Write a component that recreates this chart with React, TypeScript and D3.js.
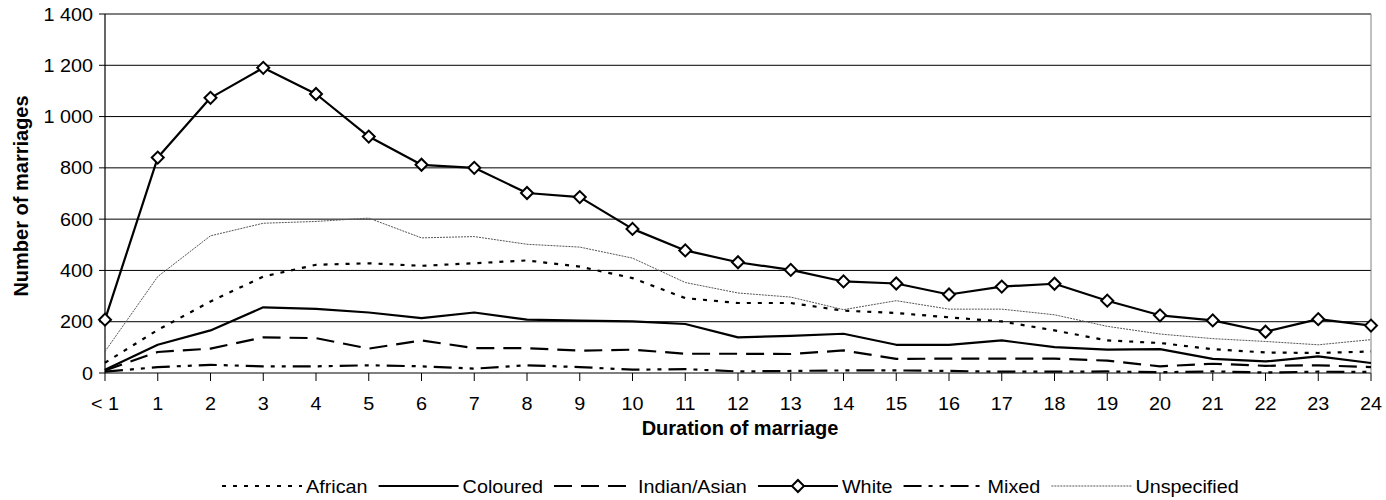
import React from 'react';
import * as d3 from 'd3';

// Duration of marriage (years) by population group
const categories = ['< 1', '1', '2', '3', '4', '5', '6', '7', '8', '9', '10', '11', '12', '13', '14', '15', '16', '17', '18', '19', '20', '21', '22', '23', '24'];

const african = [40, 168, 279, 376, 422, 428, 418, 428, 439, 415, 370, 292, 273, 273, 243, 234, 217, 201, 166, 127, 117, 93, 80, 78, 84];
const coloured = [13, 110, 166, 256, 250, 236, 214, 236, 208, 204, 201, 191, 139, 145, 153, 110, 110, 127, 101, 91, 93, 55, 45, 65, 39];
const indianAsian = [10, 82, 95, 139, 136, 95, 127, 97, 97, 87, 91, 75, 75, 74, 88, 55, 56, 56, 56, 48, 26, 36, 28, 30, 23];
const white = [208, 840, 1073, 1190, 1088, 922, 812, 800, 702, 686, 562, 478, 432, 402, 357, 349, 306, 337, 348, 282, 225, 205, 161, 210, 185];
const mixed = [5, 23, 32, 26, 26, 30, 26, 17, 30, 23, 13, 15, 6, 8, 10, 10, 8, 5, 5, 6, 3, 6, 2, 5, 4];
const unspecified = [84, 376, 535, 584, 591, 604, 527, 532, 502, 491, 448, 353, 312, 296, 247, 282, 249, 249, 227, 182, 152, 134, 123, 110, 130];

const yTicks = [0, 200, 400, 600, 800, 1000, 1200, 1400];
const yTickLabels = ['0', '200', '400', '600', '800', '1 000', '1 200', '1 400'];

const seriesNames = ['African', 'Coloured', 'Indian/Asian', 'White', 'Mixed', 'Unspecified'];
const seriesValues = [african, coloured, indianAsian, white, mixed, unspecified];

const W = 1386;
const H = 500;
const FONT = '"Liberation Sans", Arial, sans-serif';
const SX = 1.1; // the source is slightly stretched horizontally

const styles: { stroke: string; width: number; dash?: string; marker?: boolean }[] = [
  { stroke: '#000', width: 2.2, dash: '4,7' },
  { stroke: '#000', width: 2.2 },
  { stroke: '#000', width: 2.2, dash: '18,9' },
  { stroke: '#000', width: 2.2, marker: true },
  { stroke: '#000', width: 2.2, dash: '18,7,4,7,4,7' },
  { stroke: '#555', width: 1, dash: '2,1' },
];

function T({ x, y, anchor = 'start', size = 18, bold = false, children }: any) {
  return (
    <text
      transform={`translate(${x},${y}) scale(${SX},1)`}
      textAnchor={anchor}
      fontFamily={FONT}
      fontSize={size}
      fontWeight={bold ? 'bold' : 'normal'}
      fill="#000"
    >
      {children}
    </text>
  );
}

function measure(txt: string, size: number) {
  const c = document.createElement('canvas').getContext('2d');
  if (!c) return txt.length * size * 0.55;
  c.font = `${size}px ${FONT}`;
  return c.measureText(txt).width * SX;
}

export default function App() {
  const left = 105, right = 1371, top = 14, bottom = 373;

  const x = d3.scalePoint<string>().domain(categories).range([left, right]);
  const y = d3.scaleLinear().domain([0, 1400]).range([bottom, top]);

  const line = d3.line<number>()
    .x((_, i) => x(categories[i]) as number)
    .y(d => y(d));

  const diamond = d3.symbol().type(d3.symbolSquare).size(72)();

  // legend layout, left to right from a fixed start
  const sampleLen = 80, gapA = 4, gapB = 11;
  const widths = seriesNames.map(n => measure(n, 18));
  let lx = 222;
  const legendPos = widths.map(w => {
    const p = lx;
    lx += sampleLen + gapA + w + gapB;
    return p;
  });
  const legendY = 486;

  return (
    <svg width={W} height={H} style={{ position: 'absolute', left: 0, top: 0, background: '#fff' }}>
      {/* grid */}
      {yTicks.map(t => (
        <line key={'g' + t} x1={left} x2={right} y1={y(t)} y2={y(t)} stroke="#000" strokeWidth={1} />
      ))}
      <line x1={right} x2={right} y1={top} y2={bottom} stroke="#808080" strokeWidth={1} />
      <line x1={left} x2={left} y1={top} y2={bottom} stroke="#000" strokeWidth={1.2} />

      {/* y ticks */}
      {yTicks.map((t, i) => (
        <g key={'yt' + t}>
          <line x1={left - 6} x2={left} y1={y(t)} y2={y(t)} stroke="#000" />
          <T x={93} y={y(t) + 6.5} anchor="end">{yTickLabels[i]}</T>
        </g>
      ))}

      {/* x ticks */}
      {categories.map(c => (
        <g key={'xt' + c}>
          <line x1={x(c)} x2={x(c)} y1={bottom} y2={bottom + 8} stroke="#000" />
          <T x={x(c)} y={410} anchor="middle">{c}</T>
        </g>
      ))}

      {/* series */}
      {seriesValues.map((vals, i) => {
        const s = styles[i];
        return (
          <g key={seriesNames[i]}>
            <path d={line(vals) || ''} fill="none" stroke={s.stroke} strokeWidth={s.width}
              strokeDasharray={s.dash} strokeLinejoin="round" />
            {s.marker && vals.map((v, j) => (
              <path key={j} d={diamond || ''}
                transform={`translate(${x(categories[j])},${y(v)}) rotate(45)`}
                fill="#fff" stroke="#000" strokeWidth={2} />
            ))}
          </g>
        );
      })}

      {/* axis titles */}
      <text x={740} y={435} textAnchor="middle" fontFamily={FONT} fontSize={20} fontWeight="bold">Duration of marriage</text>
      <text transform={`translate(28,196) rotate(-90)`} textAnchor="middle" fontFamily={FONT} fontSize={20} fontWeight="bold">Number of marriages</text>

      {/* legend */}
      {seriesNames.map((n, i) => {
        const s = styles[i];
        const px = legendPos[i];
        return (
          <g key={'lg' + n}>
            <line x1={px} x2={px + sampleLen} y1={legendY} y2={legendY} stroke={s.stroke}
              strokeWidth={s.width} strokeDasharray={s.dash} />
            {s.marker && (
              <path d={diamond || ''} transform={`translate(${px + sampleLen / 2},${legendY}) rotate(45)`}
                fill="#fff" stroke="#000" strokeWidth={2} />
            )}
            <T x={px + sampleLen + gapA} y={legendY + 6.5}>{n}</T>
          </g>
        );
      })}
    </svg>
  );
}
